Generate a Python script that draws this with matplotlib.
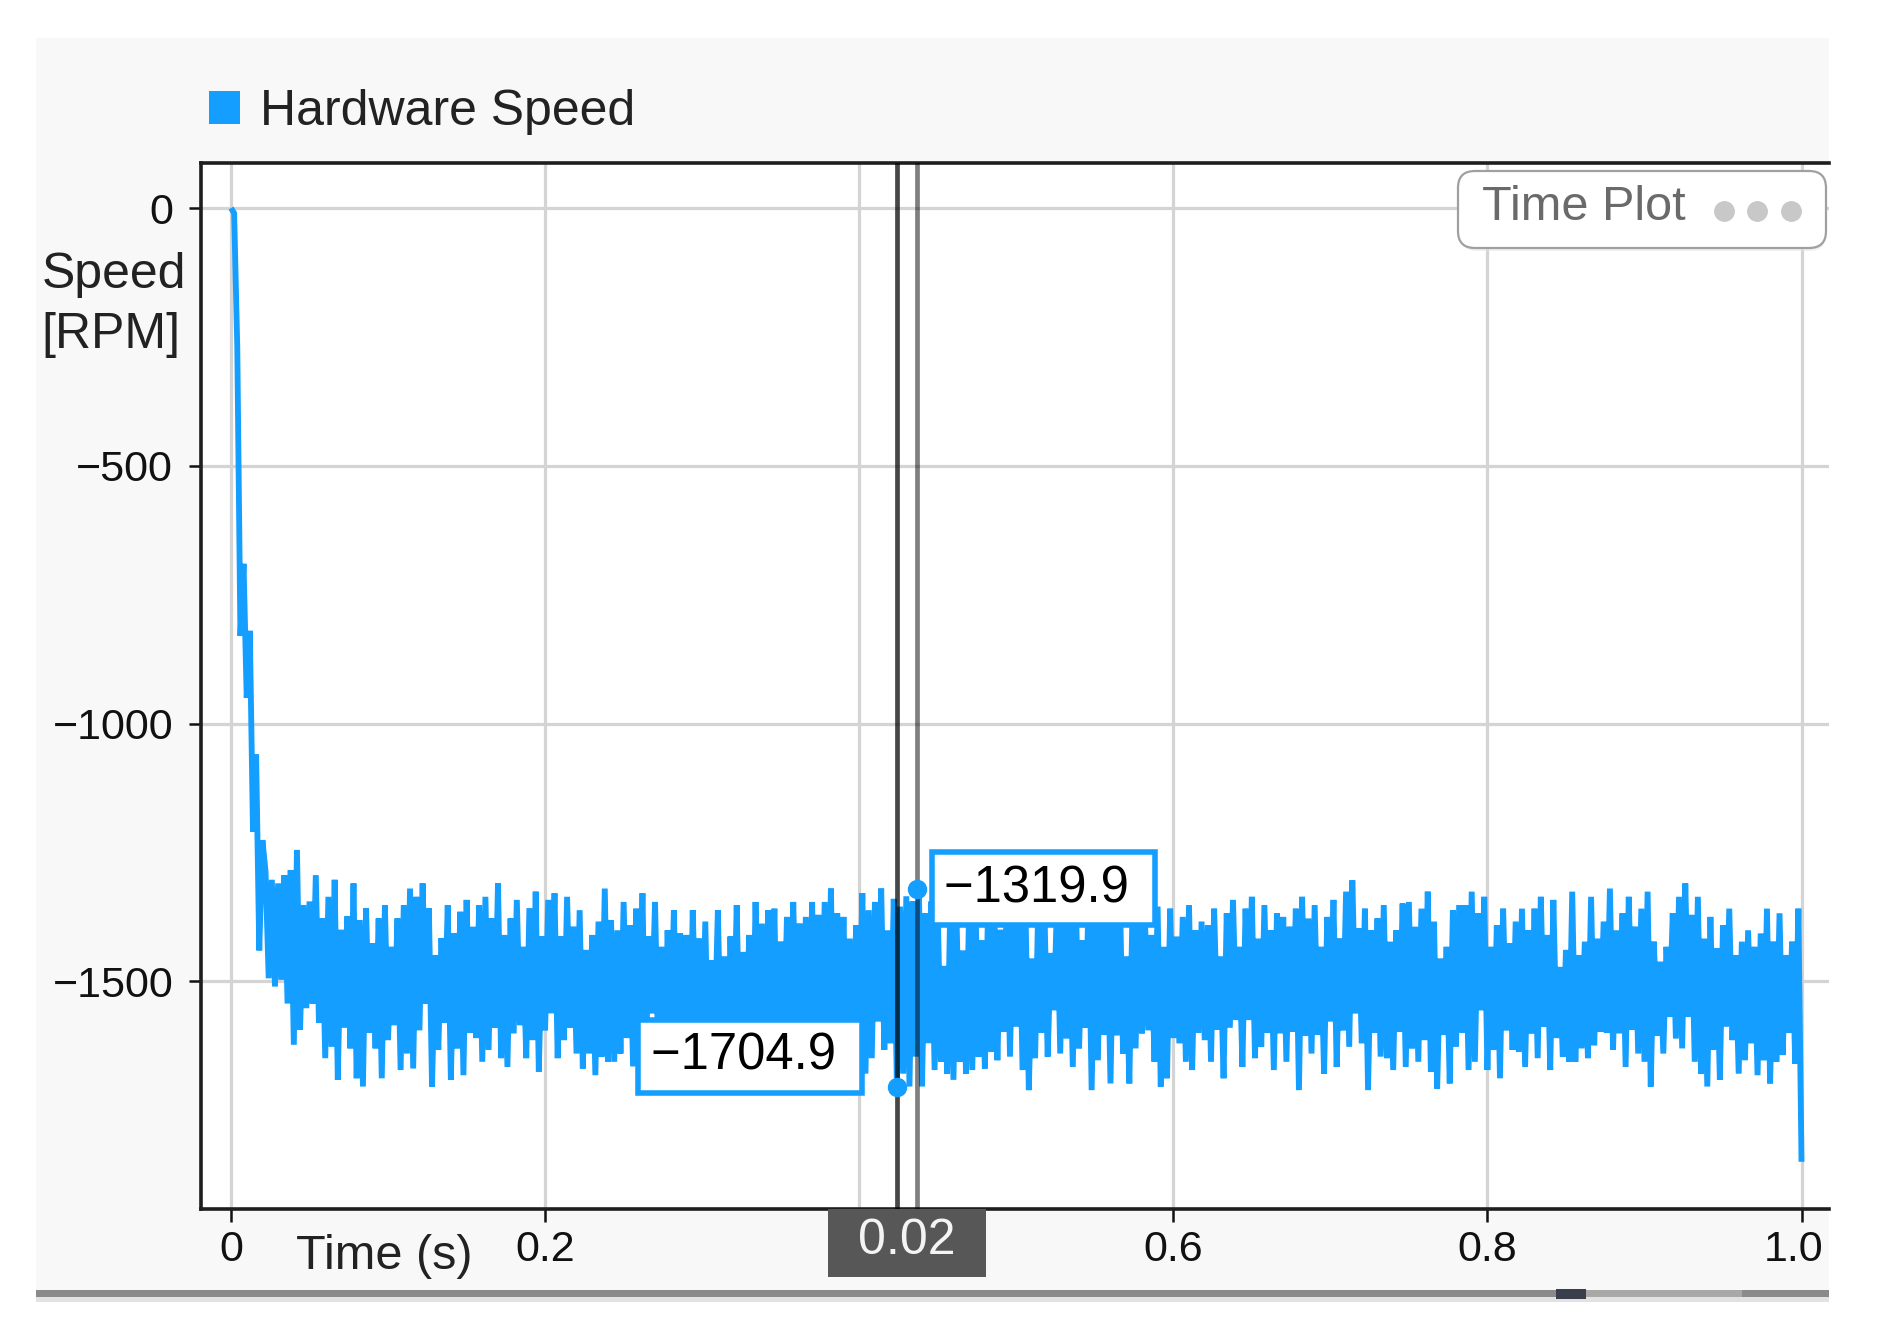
import numpy as np
import matplotlib
matplotlib.use("Agg")
import matplotlib.pyplot as plt
from matplotlib.patches import Rectangle, FancyBboxPatch, Patch
from matplotlib.lines import Line2D
import matplotlib.transforms as mtransforms

plt.rcParams['font.family'] = ['Liberation Sans', 'DejaVu Sans']

dt = 0.002
ramp = [0, -10, -270, -830, -690, -950, -820, -1210, -1060, -1440, -1226]

# upper spikes of the noisy band (one per 4 ms, starting at t = 0.022 s)
hi_a = [-1287, -1303, -1310, -1294, -1284, -1245, -1352, -1345, -1294, -1378,
        -1336, -1303, -1400, -1374, -1310, -1381, -1358, -1426, -1378, -1352,
        -1433, -1378, -1352, -1320, -1336, -1310, -1358, -1449, -1416, -1352,
        -1407, -1365, -1342, -1394, -1352, -1336, -1378, -1310, -1410, -1378,
        -1342, -1433, -1358, -1326, -1413, -1342, -1329, -1413, -1336, -1394,
        -1362, -1439, -1410, -1384, -1320]
hi_b = [-1381, -1401, -1346, -1391, -1359, -1329, -1413, -1346, -1433, -1401,
        -1362, -1407, -1410, -1362, -1417, -1384, -1459, -1362, -1452, -1413,
        -1352, -1443, -1410, -1346, -1388, -1362, -1359, -1423, -1375, -1346,
        -1388, -1375, -1346, -1371, -1346, -1320, -1368, -1375, -1417, -1391,
        -1329, -1362, -1346, -1320, -1401]
hi_c = [-1340, -1355, -1335, -1345, -1320, -1368,
        -1345, -1360, -1470, -1350, -1380, -1440, -1355, -1340, -1420, -1365,
        -1350, -1400, -1340]
hi_d = [-1360, -1345, -1380, -1456, -1350, -1370, -1445, -1340, -1365, -1395,
        -1350, -1420, -1345, -1375, -1340, -1390, -1360, -1335, -1452, -1360,
        -1345, -1385, -1410, -1355, -1433,
        -1359, -1413, -1375, -1352, -1401, -1384, -1391, -1359, -1452, -1368,
        -1342, -1433, -1359, -1336, -1417, -1352, -1401, -1368, -1375, -1394,
        -1359, -1336, -1378, -1352, -1433, -1375, -1342, -1417, -1326, -1304,
        -1397, -1359, -1401, -1378, -1352]
hi_e = [-1423, -1401, -1349, -1346, -1394, -1359, -1326, -1384, -1456, -1433,
        -1362, -1352, -1352, -1326, -1368, -1336, -1433, -1391, -1359, -1426,
        -1384, -1359, -1401, -1359, -1336, -1410, -1342, -1472, -1439, -1326,
        -1449, -1423, -1336, -1417, -1384, -1320, -1401, -1368, -1336, -1394,
        -1359, -1326, -1423, -1462, -1433, -1368, -1336, -1310, -1371, -1336,
        -1417, -1375, -1436, -1391, -1359, -1449, -1423, -1401, -1433, -1407,
        -1359, -1423, -1368, -1449, -1423, -1359]

# lower spikes of the band (2 ms after each upper spike)
lo_a = [-1494, -1510, -1497, -1543, -1623, -1594, -1552, -1543, -1580, -1649,
        -1627, -1691, -1590, -1630, -1688, -1704, -1600, -1630, -1688, -1614,
        -1585, -1672, -1640, -1669, -1595, -1543, -1704, -1633, -1580, -1691,
        -1630, -1682, -1600, -1610, -1656, -1633, -1590, -1649, -1666, -1601,
        -1585, -1649, -1614, -1675, -1595, -1562, -1649, -1614, -1590, -1640,
        -1669, -1640, -1682, -1646, -1656]
lo_b = [-1656, -1640,
        -1610, -1665, -1590, -1680, -1562, -1640, -1695, -1605, -1660, -1620,
        -1690, -1585, -1650, -1675, -1600, -1640, -1700, -1615, -1660, -1590,
        -1685, -1630, -1655, -1605, -1690, -1620, -1670, -1595, -1645, -1680,
        -1610, -1665, -1625, -1700, -1600, -1650, -1685, -1615,
        -1679, -1649, -1578, -1633, -1620]
lo_c = [-1705, -1679, -1704, -1646, -1704, -1620,
        -1672, -1656, -1679, -1691, -1656, -1679, -1672, -1646, -1669, -1637,
        -1653, -1598, -1646]
lo_d = [-1588, -1672, -1711, -1649, -1600, -1646, -1556, -1640, -1611, -1666,
        -1630, -1590, -1711, -1653, -1604, -1698, -1605, -1640, -1698, -1630,
        -1601, -1595, -1656, -1704, -1688, -1610, -1620, -1656, -1672, -1600,
        -1614, -1656, -1594, -1688, -1590, -1575, -1666, -1575, -1649, -1627,
        -1600, -1672, -1601, -1656, -1598, -1711, -1605, -1640, -1604, -1679,
        -1578, -1666, -1595, -1627, -1562, -1620, -1711, -1600, -1646, -1649]
lo_e = [-1672, -1598, -1666, -1630, -1656, -1614, -1675, -1708, -1604, -1698,
        -1627, -1600, -1672, -1656, -1556, -1672, -1633, -1688, -1595, -1633,
        -1637, -1666, -1601, -1649, -1588, -1672, -1610, -1646, -1656, -1656,
        -1630, -1649, -1624, -1598, -1600, -1633, -1601, -1666, -1594, -1640,
        -1656, -1704, -1605, -1640, -1569, -1611, -1630, -1569, -1656, -1679,
        -1704, -1633, -1691, -1588, -1614, -1679, -1653, -1620, -1682, -1653,
        -1698, -1656, -1643, -1600, -1660, -1850]

cursor_t = [0.424, 0.437]
cursor_val = [-1704.9, -1319.9]
cursor_delta = "0.02"

xticks = [0, 0.2, 0.4, 0.6, 0.8, 1.0]
xticklabels = ["0", "0.2", "", "0.6", "0.8", "1.0"]   # 0.4 sits under the delta readout
yticks = [0, -500, -1000, -1500]

hi = hi_a + hi_b + hi_c + hi_d + hi_e
lo = lo_a + lo_b + lo_c + lo_d + lo_e
band = np.empty(len(hi) + len(lo))
band[0::2] = hi
band[1::2] = lo
speed = np.concatenate([ramp, band])
time = np.arange(len(speed)) * dt

blue = "#149eff"
W, H = 1877, 1329

fig = plt.figure(figsize=(W / 100, H / 100), dpi=100)
fig.patch.set_facecolor("white")

# panel background + scroll bar
fig.add_artist(Rectangle((36 / W, 1 - 1293 / H), (1829 - 36) / W, (1293 - 38) / H,
                         transform=fig.transFigure, facecolor="#f8f8f8", edgecolor="none", zorder=-10))
fig.add_artist(Rectangle((36 / W, 1 - 1297 / H), (1829 - 36) / W, 7 / H,
                         transform=fig.transFigure, facecolor="#8a8a8a", edgecolor="none", zorder=-5))
fig.add_artist(Rectangle((36 / W, 1 - 1302 / H), (1829 - 36) / W, 5 / H,
                         transform=fig.transFigure, facecolor="#e2e2e2", edgecolor="none", zorder=-5))
fig.add_artist(Rectangle((1586 / W, 1 - 1297 / H), (1742 - 1586) / W, 7 / H,
                         transform=fig.transFigure, facecolor="#a8a8a8", edgecolor="none", zorder=-4))
fig.add_artist(Rectangle((1556 / W, 1 - 1299 / H), 30 / W, 10 / H,
                         transform=fig.transFigure, facecolor="#39404c", edgecolor="none", zorder=-4))

ax = fig.add_axes([201 / W, 1 - 1208.7 / H, (1829 - 201) / W, (1208.7 - 162.7) / H])
ax.set_facecolor("white")
ax.plot(time, speed, color=blue, lw=4.2, solid_joinstyle="miter", solid_capstyle="butt", zorder=3)

ax.set_xlim(-0.0191, 1.0175)
ax.set_ylim(-1941, 88)
ax.set_xticks(xticks)
ax.set_xticklabels(xticklabels)
ax.set_yticks(yticks)
ax.grid(True, color="#d4d4d4", lw=2.3, zorder=0)
ax.set_axisbelow(True)
ax.tick_params(axis="both", labelsize=31, length=9, width=1.8, colors="#111111")
ax.tick_params(axis="y", pad=11)
ax.tick_params(axis="x", pad=6)
for side in ["left", "top", "bottom"]:
    ax.spines[side].set_color("#1e1e1e")
    ax.spines[side].set_linewidth(2.6)
ax.spines["right"].set_visible(False)

# last time label sits a little left of its tick, against the panel edge
last = ax.get_xticklabels()[-1]
last.set_transform(last.get_transform() + mtransforms.ScaledTranslation(-0.08, 0, fig.dpi_scale_trans))

ax.set_ylabel("Speed\n[RPM]", rotation=0, fontsize=36, color="#222222",
              ha="center", va="center", multialignment="left", linespacing=1.4)
ax.yaxis.set_label_coords(-0.0534, 0.864)
ax.set_xlabel("Time (s)", fontsize=35, color="#222222", ha="left", va="center")
ax.xaxis.set_label_coords(0.0584, -0.046)

# cursors
ax.axvline(cursor_t[0], color="black", alpha=0.72, lw=3.4, zorder=4)
ax.axvline(cursor_t[1], color="black", alpha=0.5, lw=3.4, zorder=4)
ax.plot(cursor_t, cursor_val, "o", color=blue, ms=13, zorder=5)
box = dict(boxstyle="square,pad=0.24", facecolor="white", edgecolor=blue, lw=4)
ax.annotate("\u2212%.1f " % abs(cursor_val[1]), (cursor_t[1], cursor_val[1]),
            xytext=(19, 0), textcoords="offset points", ha="left", va="center",
            fontsize=36.5, color="black", bbox=box, zorder=7)
ax.annotate("\u2212%.1f " % abs(cursor_val[0]), (cursor_t[0], cursor_val[0]),
            xytext=(-34, 22), textcoords="offset points", ha="right", va="center",
            fontsize=36.5, color="black", bbox=box, zorder=7)

# delta readout on the time axis
trans = mtransforms.blended_transform_factory(ax.transData, ax.transAxes)
mid = (cursor_t[0] + cursor_t[1]) / 2
ax.add_patch(Rectangle((mid - 0.0503, -0.065), 0.1006, 0.065, transform=trans,
                       facecolor="#575757", edgecolor="none", clip_on=False, zorder=8))
ax.text(mid, -0.031, cursor_delta, transform=trans, ha="center", va="center",
        fontsize=36, color="#f4f4f4", zorder=9)

# legend
fig.legend(handles=[Patch(facecolor=blue, edgecolor="none")], labels=["Hardware Speed"],
           loc="center left", bbox_to_anchor=(209 / W, 1 - 112 / H), frameon=False,
           fontsize=36, handlelength=0.62, handleheight=0.62, handletextpad=0.4,
           borderpad=0, borderaxespad=0, labelcolor="#222222")

# "Time Plot" badge
fig.add_artist(FancyBboxPatch((1460 / W, 1 - 251 / H), (1826 - 1460) / W, 77 / H,
                              boxstyle="round,pad=0,rounding_size=0.009", mutation_aspect=W / H,
                              transform=fig.transFigure, facecolor="#e6e6e6", edgecolor="none",
                              alpha=0.6, zorder=9))
fig.add_artist(FancyBboxPatch((1458 / W, 1 - 248 / H), (1826 - 1458) / W, 77 / H,
                              boxstyle="round,pad=0,rounding_size=0.009", mutation_aspect=W / H,
                              transform=fig.transFigure, facecolor="white", edgecolor="#a0a0a0",
                              lw=1.6, zorder=10))
fig.text(1482 / W, 1 - 208 / H, "Time Plot", ha="left", va="center", fontsize=35,
         color="#6a6a6a", zorder=11)
fig.add_artist(Line2D([1724 / W, 1757 / W, 1791 / W], [1 - 211 / H] * 3, transform=fig.transFigure,
                      ls="none", marker="o", ms=14, color="#c8c8c8", zorder=11))

fig.savefig("out.png", dpi=100)
